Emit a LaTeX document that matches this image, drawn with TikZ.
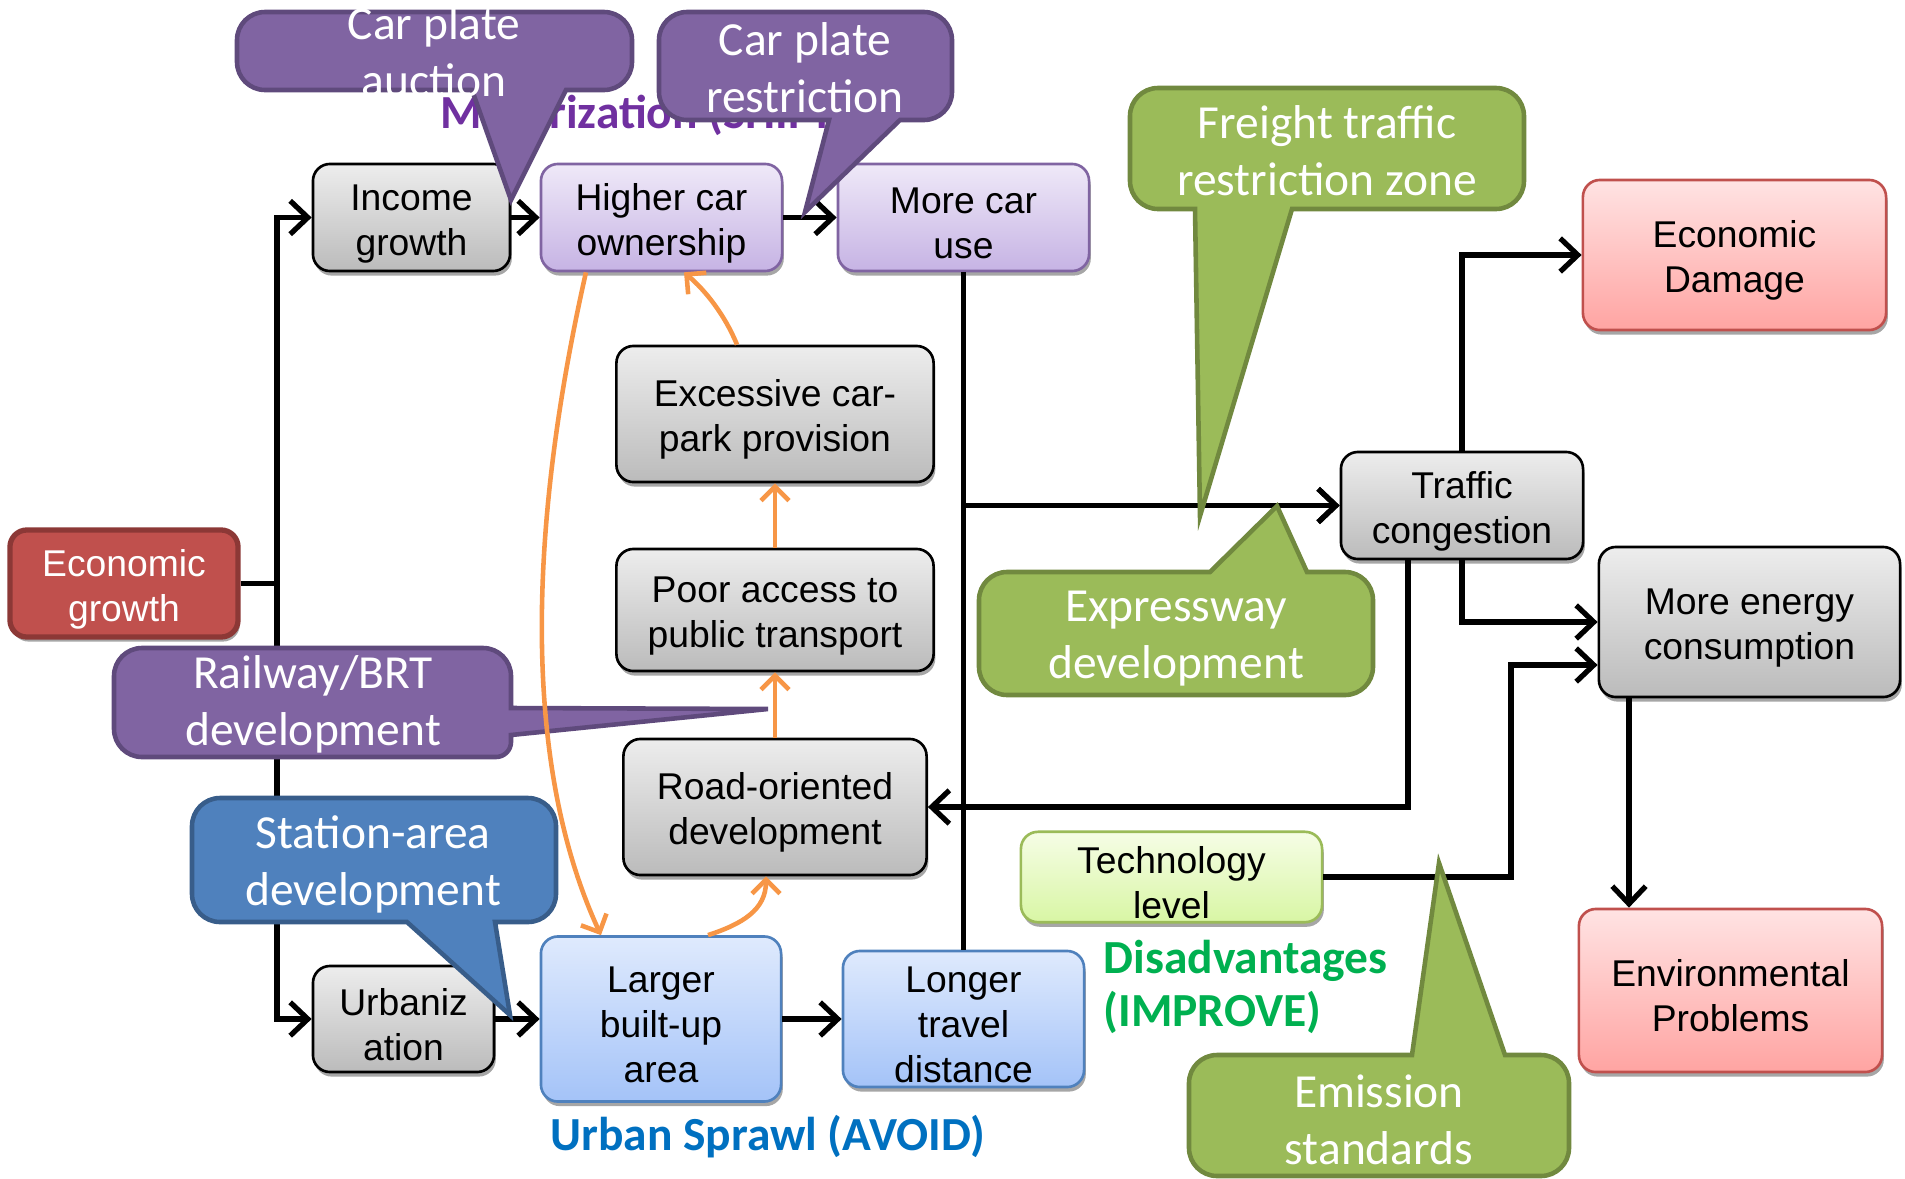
\documentclass[tikz,border=0pt]{standalone}
\usepackage{fontspec}
\setmainfont{Liberation Sans}
\newfontfamily\calfont{Carlito}
\usetikzlibrary{arrows.meta,shadows}
\newcommand\tstrut{\rule{0pt}{10.8pt}}
\definecolor{grayT}{HTML}{EDEDED}
\definecolor{grayB}{HTML}{BBBBBB}
\definecolor{purpleT}{HTML}{EFE9F8}
\definecolor{purpleB}{HTML}{C6B3E4}
\definecolor{purpleD}{HTML}{8064A2}
\definecolor{blueT}{HTML}{DFEAFD}
\definecolor{blueB}{HTML}{A4C3F8}
\definecolor{blueD}{HTML}{4F81BD}
\definecolor{redT}{HTML}{FFE3E3}
\definecolor{redB}{HTML}{FFA4A2}
\definecolor{redD}{HTML}{C0504D}
\definecolor{econF}{HTML}{C0504D}
\definecolor{econD}{HTML}{8C3836}
\definecolor{techT}{HTML}{F6FDE6}
\definecolor{techB}{HTML}{D8F6A4}
\definecolor{techD}{HTML}{9BBB59}
\definecolor{calP}{HTML}{8064A2}
\definecolor{calPD}{HTML}{5F4A7C}
\definecolor{calG}{HTML}{9BBB59}
\definecolor{calGD}{HTML}{71893F}
\definecolor{calB}{HTML}{4F81BD}
\definecolor{calBD}{HTML}{385D8A}
\definecolor{orangeC}{HTML}{F79646}
\definecolor{titleP}{HTML}{7030A0}
\definecolor{sprawlB}{HTML}{0070C0}
\definecolor{disG}{HTML}{00B050}
\begin{document}
\begin{tikzpicture}[x=0.01cm,y=-0.01cm,
  box/.style={rounded corners=0.17cm, line width=0.75pt, align=center, inner sep=1pt,
    font=\fontsize{10.6}{12.8}\selectfont,
    general shadow={fill=black!35, shadow xshift=0.5pt, shadow yshift=-1.3pt}},
  graybox/.style={box, draw=black, top color=grayT, bottom color=grayB},
  purplebox/.style={box, draw=purpleD, top color=purpleT, bottom color=purpleB},
  bluebox/.style={box, draw=blueD, top color=blueT, bottom color=blueB},
  redbox/.style={box, draw=redD, top color=redT, bottom color=redB},
  techbox/.style={box, draw=techD, top color=techT, bottom color=techB},
  econbox/.style={box, draw=econD, fill=econF, text=white, line width=1.5pt},
  conn/.style={line width=1.5pt, -{Straight Barb[length=5pt,width=9.5pt]}},
  plainline/.style={line width=1.5pt},
  oconn/.style={draw=orangeC, line width=1.3pt, -{Straight Barb[length=4pt,width=8pt]}},
  callP/.style={fill=calP, draw=calPD, line width=1.3pt},
  callG/.style={fill=calG, draw=calGD, line width=1.3pt},
  callB/.style={fill=calB, draw=calBD, line width=1.3pt},
  ctext/.style={text=white, align=center, inner sep=0pt, font=\calfont\fontsize{13.5}{16.2}\selectfont},
  lbl/.style={inner sep=0pt, font=\calfont\bfseries\fontsize{13.5}{15.2}\selectfont}
]
\useasboundingbox (0,0) rectangle (1905,1178);
\clip (0,0) rectangle (1905,1178);

% title (partly hidden)
\node[lbl, text=titleP, anchor=west] (motor) at (440,114) {Motorization (SHIFT)};

% boxes
\node[graybox, minimum width=1.97cm, minimum height=1.07cm] (income) at (411.5,217.5) {\tstrut Income\\growth};
\node[purplebox, minimum width=2.41cm, minimum height=1.07cm] (higher) at (661.5,217.5) {\tstrut Higher car\\ownership};
\node[purplebox, minimum width=2.51cm, minimum height=1.07cm] (moreuse) at (963.5,217.5) {\tstrut More car\\use};
\node[redbox, minimum width=3.03cm, minimum height=1.50cm] (ecodam) at (1734.5,255) {\tstrut Economic\\Damage};
\node[graybox, minimum width=3.17cm, minimum height=1.36cm] (excess) at (775,414) {\tstrut Excessive car-\\park provision};
\node[graybox, minimum width=3.17cm, minimum height=1.22cm] (poor) at (775,610) {\tstrut Poor access to\\public transport};
\node[graybox, minimum width=2.42cm, minimum height=1.07cm] (traffic) at (1462,505.5) {\tstrut Traffic\\congestion};
\node[econbox, minimum width=2.28cm, minimum height=1.07cm] (ecogrowth) at (124,583.5) {\tstrut Economic\\growth};
\node[graybox, minimum width=3.01cm, minimum height=1.50cm] (energy) at (1749.5,622) {\tstrut More energy\\consumption};
\node[graybox, minimum width=3.03cm, minimum height=1.36cm] (road) at (775,807) {\tstrut Road-oriented\\development};
\node[techbox, minimum width=3.01cm, minimum height=0.88cm] (tech) at (1171.5,877) {\tstrut Technology\\level};
\node[redbox, minimum width=3.03cm, minimum height=1.63cm] (env) at (1730.5,990.5) {\tstrut Environmental\\Problems};
\node[graybox, minimum width=1.81cm, minimum height=1.06cm] (urban) at (403.5,1019) {\tstrut Urbaniz\\ation};
\node[bluebox, minimum width=2.40cm, minimum height=1.65cm] (larger) at (661,1019) {\tstrut Larger\\built-up\\area};
\node[bluebox, minimum width=2.41cm, minimum height=1.36cm] (longer) at (963.5,1019) {\tstrut Longer\\travel\\distance};

% labels
\node[lbl, text=sprawlB] (sprawl) at (768,1137) {Urban Sprawl (AVOID)};
\node[lbl, text=disG, align=left, anchor=west] (disadv) at (1103,987) {Disadvantages\\(IMPROVE)};

% black connectors
\coordinate (trunk) at (277,583.5);
\draw[plainline] (ecogrowth.east) -- (trunk);
\draw[conn] (trunk) |- (income.west);
\draw[conn] (trunk) |- (urban.west);
\draw[conn] (income) -- (higher);
\draw[conn] (higher) -- (moreuse);
\draw[conn] (moreuse.south) |- (traffic.west);
\draw[conn] (longer.north) |- (traffic.west);
\draw[conn] (traffic.north) |- (ecodam.west);
\draw[conn] (traffic.south) |- (energy.west);
\draw[conn] ([xshift=-0.54cm]traffic.south) |- (road.east);
\coordinate (tb) at (1511,665);
\draw[conn] (tech.east) -| (tb) -- (tb -| energy.west);
\coordinate (ex) at (1629,0);
\draw[conn] (energy.south -| ex) -- (env.north -| ex);
\draw[conn] (urban) -- (larger);
\draw[conn] (larger) -- (longer);

% callouts
\path[callP] (434,12) [rounded corners=0.28cm] -- (632,12) -- (632,90) [sharp corners] -- (566,90) -- (511,200) -- (472,90) [rounded corners=0.28cm] -- (237,90) -- (237,12) -- cycle;
\node[ctext] (t-auction) at (434,52) {Car plate\\auction};

\path[callP] (805,12) [rounded corners=0.28cm] -- (952,12) -- (952,120) [sharp corners] -- (900,120) -- (805,212) -- (829,120) [rounded corners=0.28cm] -- (659,120) -- (659,12) -- cycle;
\node[ctext] (t-restr) at (805,68) {Car plate\\restriction};

\path[callG] (1327,88) [rounded corners=0.28cm] -- (1524,88) -- (1524,209) [sharp corners] -- (1292,209) -- (1200,516) -- (1195,209) [rounded corners=0.28cm] -- (1130,209) -- (1130,88) -- cycle;
\node[ctext] (t-freight) at (1327,151) {Freight traffic\\restriction zone};

\path[callG] (1176,695) [rounded corners=0.28cm] -- (979,695) -- (979,572) [sharp corners] -- (1210,572) -- (1277,506) -- (1307,572) [rounded corners=0.28cm] -- (1373,572) -- (1373,695) -- cycle;
\node[ctext] (t-express) at (1176,639) {Expressway\\development};

\path[callP] (312,757) [rounded corners=0.28cm] -- (114,757) -- (114,648) -- (511,648) [sharp corners] -- (511,708) -- (768,709) -- (511,735) [rounded corners=0.15cm] -- (511,757) -- cycle;
\node[ctext] (t-rail) at (313,704) {Railway/BRT\\development};

\path[callB] (374,798) [rounded corners=0.28cm] -- (556,798) -- (556,922) [sharp corners] -- (495,922) -- (510,1015) -- (407,922) [rounded corners=0.28cm] -- (192,922) -- (192,798) -- cycle;
\node[ctext] (t-station) at (373,864) {Station-area\\development};

\path[callG] (1379,1176) [rounded corners=0.28cm] -- (1189,1176) -- (1189,1055) [sharp corners] -- (1412,1055) -- (1439,863) -- (1505,1055) [rounded corners=0.28cm] -- (1569,1055) -- (1569,1176) -- cycle;
\node[ctext] (t-emission) at (1379,1120) {Emission\\standards};

% orange connectors
\draw[oconn] (road.north) -- (poor.south);
\draw[oconn] (poor.north) -- (excess.south);
\draw[oconn] ([xshift=-0.38cm]excess.north) .. controls (725,315) and (705,290) .. ([xshift=0.225cm]higher.south);
\draw[oconn] ([xshift=-0.755cm]higher.south) .. controls (530,520) and (520,760) .. ([xshift=-0.60cm]larger.north);
\draw[oconn] ([xshift=0.47cm]larger.north) .. controls (742,924) and (766,910) .. ([xshift=-0.09cm]road.south);
\end{tikzpicture}
\end{document}
